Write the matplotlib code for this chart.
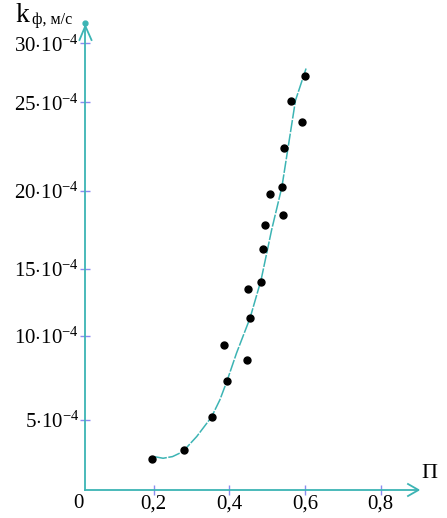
import matplotlib
matplotlib.use("Agg")
import matplotlib.pyplot as plt
from matplotlib.lines import Line2D

plt.rcParams['font.family'] = ['Liberation Serif', 'DejaVu Serif']
plt.rcParams['mathtext.fontset'] = 'custom'
plt.rcParams['mathtext.rm'] = 'Liberation Serif'
plt.rcParams['mathtext.it'] = 'Liberation Serif:italic'

# measured points (П, k_ф in 1e-4 m/s)
p_pts = [0.600, 0.562, 0.593, 0.545, 0.539, 0.508, 0.541, 0.494, 0.488,
         0.484, 0.449, 0.455, 0.387, 0.448, 0.395, 0.353, 0.281, 0.196]
k_pts = [27.43, 25.79, 24.37, 22.70, 20.14, 19.66, 18.26, 17.64, 16.04,
         13.85, 13.43, 11.51, 9.75, 8.75, 7.37, 5.00, 2.81, 2.26]

# trend curve
p_fit = [0.203, 0.225, 0.250, 0.277, 0.314, 0.353, 0.375, 0.394, 0.419,
         0.455, 0.484, 0.512, 0.539, 0.575, 0.603]
k_fit = [2.39, 2.29, 2.40, 2.72, 3.72, 5.00, 6.12, 7.37, 9.19,
         11.51, 14.0, 17.3, 20.1, 25.8, 27.9]

xtick_pos = [0.2, 0.4, 0.6, 0.8]
xtick_labels = ['0,2', '0,4', '0,6', '0,8']
ytick_pos = [4.80, 10.33, 14.74, 19.87, 25.68, 29.56]
ytick_labels = [r'$5{\cdot}10^{-4}$', r'$10{\cdot}10^{-4}$', r'$15{\cdot}10^{-4}$',
                r'$20{\cdot}10^{-4}$', r'$25{\cdot}10^{-4}$', r'$30{\cdot}10^{-4}$']

teal = '#3cb4b4'
W, H = 447, 518
fig = plt.figure(figsize=(W / 100, H / 100), dpi=100)
ax = fig.add_axes([85.3 / W, (H - 490) / H, (418 - 85.3) / W, 465 / H])
ax.set_xlim(0.0193, 0.899)
ax.set_ylim(0.204, 30.76)

ax.plot(p_fit, k_fit, color=teal, lw=1.1, ls=(0, (8, 1)), zorder=2)
ax.plot(p_pts, k_pts, 'o', color='black', ms=5, zorder=3, clip_on=False)

for s in ['top', 'right']:
    ax.spines[s].set_visible(False)
for s in ['left', 'bottom']:
    ax.spines[s].set_color(teal)
    ax.spines[s].set_linewidth(1.3)

ax.set_xticks(xtick_pos)
ax.set_xticklabels(xtick_labels, fontsize=15)
ax.set_yticks(ytick_pos)
ax.set_yticklabels(ytick_labels, fontsize=15)
ax.tick_params(axis='both', direction='inout', length=7, width=1.0,
               color='#8c8cf0')
ax.tick_params(axis='x', pad=0)
ax.tick_params(axis='y', pad=1)


def px_line(xs, ys):
    fig.add_artist(Line2D([x / W for x in xs], [1 - y / H for y in ys],
                          color=teal, lw=1.3, transform=fig.transFigure,
                          zorder=5))


# arrow heads
px_line([408, 418.5, 408], [484, 490, 496])
px_line([79.5, 85.3, 91.5], [40, 26, 40])
ax.plot([0.0193], [30.9], 'o', color=teal, ms=3.5, clip_on=False)

fig.text(78 / W, 1 - 504 / H, '0', fontsize=15, ha='center', va='center')
fig.text(421 / W, 1 - 474 / H, 'П', fontsize=16, ha='left', va='center')
fig.text(16 / W, 1 - 16 / H, 'k', fontsize=20, ha='left', va='center')
fig.text(32 / W, 1 - 20 / H, 'ф, м/с', fontsize=11.5, ha='left', va='center')

fig.savefig('out.png', dpi=100)
